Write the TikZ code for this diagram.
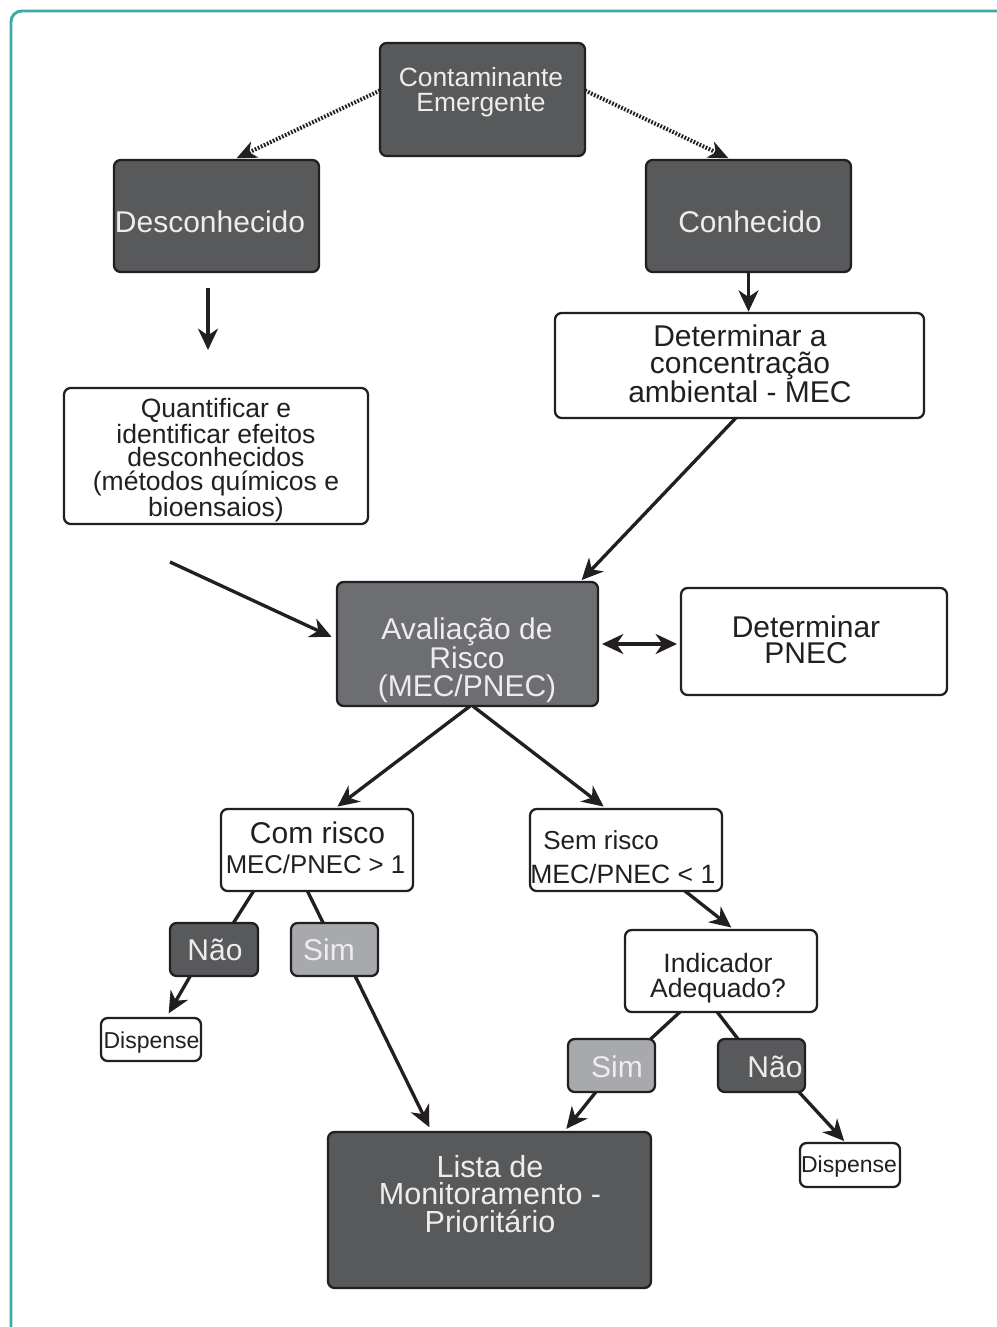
\documentclass[tikz,border=0pt]{standalone}
\usepackage{fontspec}
\setmainfont{Liberation Sans}
\usetikzlibrary{arrows.meta,calc,fit}
\definecolor{dk}{HTML}{58595B}
\definecolor{md}{HTML}{6D6E71}
\definecolor{lt}{HTML}{A7A9AC}
\definecolor{ink}{HTML}{231F20}
\definecolor{framec}{HTML}{3FA9A6}
\definecolor{ltxt}{HTML}{EDEDED}
\tikzset{
 box/.style={draw=ink, line width=1.7pt, rounded corners=5pt, inner sep=0pt, outer sep=0pt},
 darkbox/.style={box, fill=dk},
 midbox/.style={box, fill=md},
 lightbox/.style={box, fill=lt},
 whitebox/.style={box, fill=white},
 ltext/.style={text=ltxt, inner sep=0pt, align=center},
 dtext/.style={text=ink, inner sep=0pt, align=center},
 conn/.style={draw=ink, line width=2.5pt},
 arr/.style={conn, -{Stealth[length=16pt,width=15pt,inset=5pt]}},
 dblarr/.style={conn, {Stealth[length=16pt,width=15pt,inset=5pt]}-{Stealth[length=16pt,width=15pt,inset=5pt]}},
 dotarr/.style={draw=ink, line width=3pt, dash pattern=on 1.3pt off 1.2pt, -{Stealth[length=15pt,width=13pt,inset=4.5pt]}},
 big/.style={font=\fontsize{22.5pt}{20.6pt}\selectfont},
}
\newcommand\bx[6]{\node[#2, fit={(#3,#4) (#5,#6)}] (#1) {};}
\begin{document}
\begin{tikzpicture}[x=0.75pt,y=-0.75pt]
\useasboundingbox (0,0) rectangle (996,1327);
\fill[white] (0,0) rectangle (996,1327);
\draw[framec, line width=2.2pt, rounded corners=8pt] (11,1345) -- (11,11) -- (1010,11);

% boxes
\bx{cont}{darkbox}{380}{43}{585}{156}
\bx{desc}{darkbox}{114}{160}{319}{272}
\bx{conh}{darkbox}{646}{160}{851}{272}
\bx{mec}{whitebox}{555}{313}{924}{418}
\bx{quant}{whitebox}{64}{388}{368}{524}
\bx{aval}{midbox}{337}{582}{598}{706}
\bx{pnec}{whitebox}{681}{588}{947}{695}
\bx{com}{whitebox}{221}{809}{413}{891}
\bx{sem}{whitebox}{530}{809}{722}{891}
\bx{naoL}{darkbox}{170}{923}{258}{976}
\bx{simL}{lightbox}{291}{923}{378}{976}
\bx{dispL}{whitebox}{101}{1018}{201}{1061}
\bx{ind}{whitebox}{625}{930}{817}{1012}
\bx{simR}{lightbox}{568}{1039}{655}{1092}
\bx{naoR}{darkbox}{718}{1039}{805}{1092}
\bx{dispR}{whitebox}{800}{1143}{900}{1187}
\bx{lista}{darkbox}{328}{1132}{651}{1288}

% texts
\node[ltext, font=\fontsize{19.8pt}{18.75pt}\selectfont] (contT) at (481,92) {Contaminante\\Emergente};
\node[ltext, big, anchor=base] (descT) at (210,232) {Desconhecido};
\node[ltext, big, anchor=base] (conhT) at (750,232) {Conhecido};
\node[dtext, font=\fontsize{22.5pt}{19.9pt}\selectfont] (mecT) at (740,364) {Determinar a\\concentração\\ambiental - MEC};
\node[dtext, font=\fontsize{19.9pt}{17.6pt}\selectfont] (quantT) at (216,460) {Quantificar e\\identificar efeitos\\desconhecidos\\(métodos químicos e\\bioensaios)};
\node[ltext, big] (avalT) at (467,660) {Avaliação de\\Risco\\(MEC/PNEC)};
\node[dtext, font=\fontsize{22.5pt}{19.5pt}\selectfont] (pnecT) at (806,640) {Determinar\\PNEC};
\node[dtext, big, anchor=base] (comT1) at (317.5,843) {Com risco};
\node[dtext, font=\fontsize{19.3pt}{19pt}\selectfont, anchor=base] (comT2) at (315.5,873) {MEC/PNEC > 1};
\node[dtext, font=\fontsize{19.5pt}{19pt}\selectfont, anchor=base west] (semT1) at (543,849) {Sem risco};
\node[dtext, font=\fontsize{19.9pt}{19pt}\selectfont, anchor=base west] (semT2) at (530,883.5) {MEC/PNEC < 1};
\node[ltext, big, anchor=base] (naoLT) at (215,960) {Não};
\node[ltext, big, anchor=base] (simLT) at (329,960) {Sim};
\node[dtext, font=\fontsize{17.25pt}{17pt}\selectfont, anchor=base] (dispLT) at (151.5,1048) {Dispense};
\node[dtext, font=\fontsize{19.9pt}{18.75pt}\selectfont] (indT) at (718,978) {Indicador\\Adequado?};
\node[ltext, big, anchor=base] (simRT) at (617,1077) {Sim};
\node[ltext, big, anchor=base] (naoRT) at (775,1077) {Não};
\node[dtext, font=\fontsize{17.25pt}{17pt}\selectfont, anchor=base] (dispRT) at (849,1172) {Dispense};
\node[ltext, font=\fontsize{22.9pt}{20.6pt}\selectfont] (listaT) at (490,1194) {Lista de\\Monitoramento -\\Prioritário};

% free ends
\coordinate (d1) at ($(desc.south)+(-8.5,16)$);
\coordinate (d2) at ($(quant.north)+(-8,-38)$);
\coordinate (q1) at ($(quant.south)+(-46,38)$);

% connectors
\draw[dotarr, shorten >=3pt] ($(cont.north west)!0.42!(cont.south west)$) -- ($(desc.north west)!0.58!(desc.north east)$);
\draw[dotarr, shorten >=3pt] ($(cont.north east)!0.42!(cont.south east)$) -- ($(conh.north west)!0.42!(conh.north east)$);
\draw[arr] (d1) -- (d2);
\draw[arr, shorten >=1pt] (conh.south) -- (conh.south |- mec.north);
\draw[arr, shorten >=2pt] ($(mec.south west)!0.49!(mec.south east)$) -- ($(aval.north east)!0.07!(aval.north west)$);
\draw[arr, shorten >=2pt] (q1) -- ($(aval.west)+(-3,-6)$);
\draw[dblarr, shorten <=3pt, shorten >=3pt] (aval.east) -- (aval.east -| pnec.west);
\draw[arr, shorten >=3pt] ($(aval.south west)!0.51!(aval.south east)$) -- ($(com.north west)!0.59!(com.north east)$);
\draw[arr, shorten >=3pt] ($(aval.south west)!0.52!(aval.south east)$) -- ($(sem.north west)!0.4!(sem.north east)$);
\draw[conn] ($(com.south west)!0.17!(com.south east)$) -- ($(naoL.north west)!0.72!(naoL.north east)$);
\draw[conn] ($(com.south west)!0.45!(com.south east)$) -- ($(simL.north west)!0.37!(simL.north east)$);
\draw[arr, shorten >=4pt] ($(naoL.south west)!0.23!(naoL.south east)$) -- ($(dispL.north west)!0.65!(dispL.north east)$);
\draw[arr, shorten >=4pt] ($(simL.south west)!0.737!(simL.south east)$) -- ($(lista.north west)!0.321!(lista.north east)$);
\draw[arr, shorten >=3pt] ($(sem.south west)!0.807!(sem.south east)$) -- ($(ind.north west)!0.57!(ind.north east)$);
\draw[conn] ($(ind.south west)!0.286!(ind.south east)$) -- ($(simR.north west)!0.95!(simR.north east)$);
\draw[conn] ($(ind.south west)!0.48!(ind.south east)$) -- ($(naoR.north west)!0.23!(naoR.north east)$);
\draw[arr, shorten >=3pt] ($(simR.south west)!0.32!(simR.south east)$) -- ($(lista.north west)!0.73!(lista.north east)$);
\draw[arr, shorten >=2pt] ($(naoR.south west)!0.93!(naoR.south east)$) -- ($(dispR.north west)!0.46!(dispR.north east)$);
\end{tikzpicture}
\end{document}
